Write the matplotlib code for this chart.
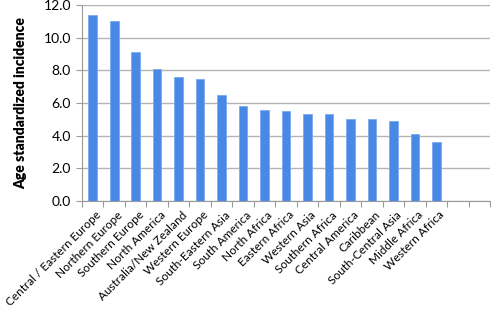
import numpy as np
import matplotlib
matplotlib.use("Agg")
import matplotlib.pyplot as plt

plt.rcParams['font.family'] = ['Lato', 'DejaVu Sans']

regions = ["Central / Eastern Europe", "Northern Europe", "Southern Europe",
           "North America", "Australia/New Zealand", "Western Europe",
           "South-Eastern Asia", "South America", "North Africa",
           "Eastern Africa", "Western Asia", "Southern Africa",
           "Central America", "Caribbean", "South-Central Asia",
           "Middle Africa", "Western Africa"]
incidence = [11.4, 11.0, 9.1, 8.1, 7.6, 7.5, 6.5, 5.8, 5.6, 5.5, 5.3, 5.3,
             5.0, 5.0, 4.9, 4.1, 3.6]
n_slots = 19  # two empty categories at the end
y_ticks = [0, 2, 4, 6, 8, 10, 12]

fig = plt.figure(figsize=(4.91, 3.09), dpi=100)
ax = fig.add_axes([82 / 491, 1 - 201 / 309, 408 / 491, 196 / 309])

x = np.arange(len(regions))
ax.bar(x, incidence, width=0.4, color='#4a88e6', edgecolor='#7aaaf0',
       linewidth=0.6, zorder=3)

ax.set_xlim(-0.5, n_slots - 0.5)
ax.set_ylim(0, 12)
ax.set_yticks(y_ticks)
ax.set_yticklabels([f"{v:.1f}" for v in y_ticks], fontsize=10)
ax.yaxis.grid(True, color='#b4b4b4', linewidth=1.0, zorder=0)

ax.set_xticks(np.arange(n_slots + 1) - 0.5)
ax.set_xticklabels([])
ax.set_xticks(x + 0.12, minor=True)
ax.set_xticklabels(regions, minor=True, rotation=45, ha='right',
                   rotation_mode='anchor', fontsize=8.5)
ax.tick_params(axis='x', which='major', length=4, color='#9a9a9a', direction='out')
ax.tick_params(axis='x', which='minor', length=0, pad=6)
ax.tick_params(axis='y', length=4, color='#9a9a9a', pad=4)

for side in ['top', 'right']:
    ax.spines[side].set_visible(False)
for side in ['left', 'bottom']:
    ax.spines[side].set_color('#9a9a9a')

ax.set_ylabel('Age standardized incidence', fontsize=10, fontweight='heavy', labelpad=12)

fig.savefig("out.png", dpi=100)
